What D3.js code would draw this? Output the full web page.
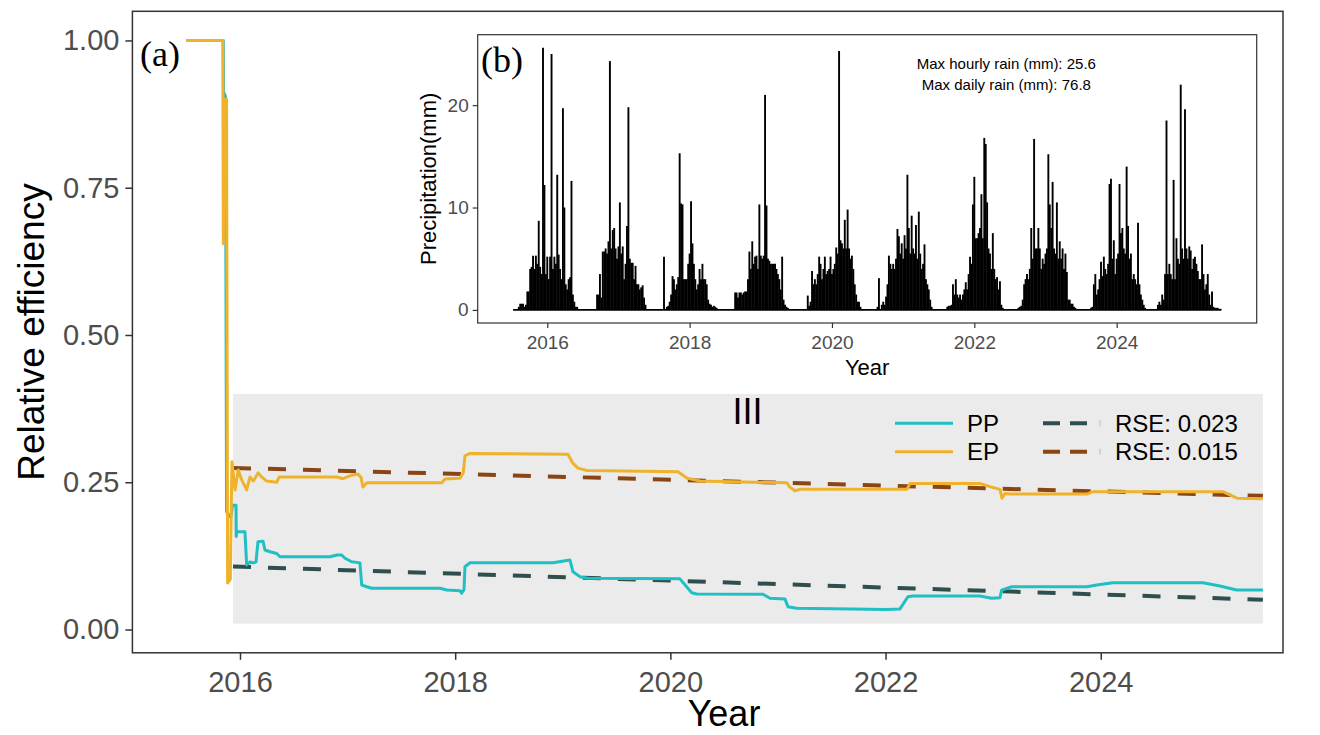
<!DOCTYPE html>
<html><head><meta charset="utf-8">
<script src="https://cdn.jsdelivr.net/npm/d3@7"></script>
<style>body{margin:0;background:#fff}svg{display:block}text{font-family:"Liberation Sans",Arial,sans-serif}</style>
</head><body><svg id="c" width="1320" height="735"></svg>
<script>
// ---------- data ----------
const yearTicks = [2016, 2018, 2020, 2022, 2024];
const effTicks = [0, 0.25, 0.5, 0.75, 1.0];
const rainTicks = [0, 10, 20];

// PP relative efficiency [year, value]
const ppSeries = [
 [2015.50,1.000],[2015.845,1.000],[2015.85,0.78],[2015.855,0.91],[2015.865,0.905],[2015.875,0.20],
 [2015.915,0.19],[2015.93,0.211],[2015.963,0.211],[2015.965,0.158],[2015.969,0.166],[2016.046,0.166],
 [2016.062,0.1095],[2016.093,0.115],[2016.121,0.113],[2016.149,0.115],[2016.167,0.149],[2016.214,0.150],
 [2016.232,0.135],[2016.279,0.132],[2016.341,0.129],[2016.372,0.1236],[2016.836,0.1236],[2016.901,0.1265],
 [2016.945,0.1265],[2016.976,0.121],[2017.038,0.115],[2017.085,0.114],[2017.115,0.113],[2017.131,0.0756],
 [2017.178,0.0727],[2017.224,0.070],[2017.859,0.070],[2017.921,0.067],[2018.045,0.066],[2018.06,0.0615],
 [2018.082,0.068],[2018.091,0.1066],[2018.138,0.1134],[2018.909,0.1134],[2019.067,0.118],[2019.095,0.098],
 [2019.16,0.0897],[2019.234,0.087],[2020.089,0.086],[2020.151,0.0727],[2020.198,0.0625],[2020.244,0.0603],
 [2020.861,0.060],[2020.926,0.053],[2021.065,0.052],[2021.093,0.0387],[2021.174,0.036],[2022.01,0.034],
 [2022.134,0.035],[2022.208,0.0557],[2022.255,0.057],[2022.877,0.057],[2022.986,0.053],[2023.063,0.054],
 [2023.079,0.067],[2023.172,0.0727],[2023.872,0.0727],[2023.962,0.0756],[2024.113,0.0795],[2024.95,0.0795],
 [2025.108,0.074],[2025.263,0.067],[2025.507,0.067]
];
// EP relative efficiency [year, value]
const epSeries = [
 [2015.50,1.000],[2015.84,1.000],[2015.845,0.655],[2015.86,0.900],[2015.875,0.900],[2015.885,0.079],
 [2015.91,0.085],[2015.925,0.285],[2015.954,0.237],[2015.984,0.271],[2016.016,0.254],[2016.062,0.237],
 [2016.093,0.259],[2016.124,0.252],[2016.170,0.266],[2016.201,0.259],[2016.248,0.252],[2016.341,0.250],
 [2016.365,0.259],[2016.90,0.259],[2016.957,0.256],[2017.04,0.262],[2017.097,0.264],[2017.125,0.258],
 [2017.143,0.242],[2017.178,0.249],[2017.875,0.249],[2017.905,0.2555],[2018.045,0.257],[2018.075,0.266],
 [2018.091,0.295],[2018.138,0.299],[2019.048,0.2975],[2019.095,0.282],[2019.141,0.274],[2019.225,0.270],
 [2020.071,0.268],[2020.117,0.262],[2020.154,0.257],[2020.275,0.252],[2021.084,0.249],[2021.112,0.2414],
 [2021.158,0.2357],[2021.204,0.238],[2022.199,0.238],[2022.227,0.248],[2022.877,0.248],[2022.998,0.241],
 [2023.063,0.238],[2023.082,0.223],[2023.11,0.231],[2023.156,0.230],[2023.872,0.230],[2023.927,0.234],
 [2025.136,0.234],[2025.266,0.223],[2025.507,0.222]
];
const ppTrend = [[2015.935,0.107],[2025.507,0.0506]];
const epTrend = [[2015.935,0.2744],[2025.507,0.227]];
const seriesNames = ["PP","EP"];
const rseLabels = ["RSE: 0.023","RSE: 0.015"];

// Precipitation (mm): wet-season bars every 0.02 yr, starting at rainStarts[i]
const rainStep = 0.02;
const rainStarts = [2015.60, 2016.70, 2017.62, 2018.64, 2019.66, 2020.64, 2021.62, 2022.62, 2023.64, 2024.58];
const rain1 = [0.3,0.6,0.6,0.6,0.3,0.5,1.8,1.8,4.0,4.2,5.3,4.0,5.3,4.5,8.7,4.2,3.5,25.6,12.2,3.5,5.2,3.0,5.2,25.0,4.0,5.2,4.5,13.2,5.4,4.0,3.0,19.7,10.0,2.5,2.0,3.0,3.2,12.6,1.5,0.8,0.3,0.3];
const rain2 = [1.5,1.5,3.5,1.2,5.7,5.7,6.0,5.5,6.7,24.3,6.0,7.8,8.0,6.0,5.0,6.2,10.5,5.5,6.2,3.0,4.5,8.2,19.8,5.0,4.6,4.6,3.0,4.3,2.5,2.5,2.0,2.2,2.4,1.2,0.5];
const rain3 = [0,5.2,0,0.3,0.4,0.8,1.5,3.3,3.0,2.0,2.5,3.2,15.3,10.4,10.3,3.0,3.0,3.0,4.5,5.5,10.6,6.5,4.5,3.0,2.0,2.5,4.0,3.0,4.5,3.0,3.0,2.5,1.0,0.6,0.5,0.3,0.4,0.3,0.2];
const rain4 = [1.7,1.7,1.2,1.7,1.7,1.5,1.7,1.8,1.8,3.0,5.7,4.0,6.7,4.5,5.2,5.3,4.0,10.3,5.3,5.0,5.3,21.0,10.2,5.0,4.8,4.5,4.5,4.5,4.5,4.0,3.5,3.0,2.0,5.2,1.0,0.5,0.3,0.2,0.1];
const rain5 = [1.4,0.4,0.8,3.8,2.5,3.0,2.5,3.5,5.2,4.5,3.0,4.0,5.2,3.5,3.8,4.0,5.2,3.5,4.0,4.5,6.1,5.5,25.3,6.8,6.5,6.0,8.8,6.0,9.8,6.0,5.0,5.3,4.0,2.5,1.5,0.8,0.8,0.3];
const rain6 = [0.3,3.1,0,0.5,0.8,0.5,1.3,2.5,5.3,4.5,4.0,4.5,4.0,5.0,7.9,7.2,5.5,6.5,5.0,7.3,6.0,13.2,8.0,5.5,9.2,6.0,5.5,8.3,5.0,9.6,5.5,4.0,4.5,6.4,3.0,2.5,2.0,1.0,0.3];
const rain7 = [0.3,0.4,0.4,0.5,2.5,1.5,3.0,1.5,1.2,1.5,1.0,1.5,2.0,2.7,2.0,3.5,5.2,4.5,10.3,13.0,7.0,7.0,7.5,8.0,11.3,7.0,16.8,16.2,10.5,6.0,5.5,4.0,7.5,4.0,3.0,3.2,2.0,2.8,0.5,0.2];
const rain8 = [0.2,0.3,0.4,1.0,2.5,3.0,3.5,3.0,4.0,8.0,5.0,16.7,6.0,6.0,8.0,6.0,4.0,5.0,4.5,5.5,6.0,15.2,10.3,8.0,12.5,6.0,5.5,10.5,5.0,6.7,5.0,6.0,4.0,5.5,3.7,1.0,1.0,0.6,0.6,0.3,0.2];
const rain9 = [0.2,0.3,2.5,3.5,1.5,2.0,3.0,4.7,3.3,5.2,4.0,3.5,4.5,12.3,12.8,5.0,6.8,3.5,5.0,5.5,12.3,7.5,8.0,6.0,5.5,14.0,8.2,5.0,5.5,3.0,3.5,3.0,2.5,8.5,2.5,1.5,1.0,0.5,0.2];
const rain10 = [0.5,0.8,0.5,1.5,1.0,3.5,18.5,3.5,4.5,3.5,3.0,12.7,3.0,7.0,5.0,4.5,22.0,6.0,5.0,19.6,6.0,5.0,6.2,5.8,4.0,5.0,5.2,4.5,3.8,3.0,3.0,6.4,3.5,2.0,2.5,3.5,1.5,0.5,1.8,0.3,0.2,0.2,0.2,0.1,0.1];
const rainSeasons = [rain1,rain2,rain3,rain4,rain5,rain6,rain7,rain8,rain9,rain10];
const rainRange = [2015.52, 2025.47];
const rainNotes = ["Max hourly rain (mm): 25.6", "Max daily rain (mm): 76.8"];

// ---------- drawing ----------
const svg = d3.select("#c");
const C = {pp:"#1FBFC3", ep:"#EFB32B", ppT:"#2F4F4F", epT:"#8B4513", axis:"#333333", tick:"#4D4D4D"};

// main panel
const x = d3.scaleLinear().domain([2015.0, 2025.694]).range([132.4, 1283]);
const y = d3.scaleLinear().domain([-0.0395, 1.0495]).range([652.8, 11.3]);

// highlighted period rectangle
svg.append("rect").attr("x", x(2015.935)).attr("y", y(0.40))
  .attr("width", x(2025.507)-x(2015.935)).attr("height", y(0.01)-y(0.40)).attr("fill","#EBEBEB");

const line = d3.line().x(d=>x(d[0])).y(d=>y(d[1]));
svg.append("path").datum(ppTrend).attr("d", line).attr("fill","none").attr("stroke",C.ppT)
  .attr("stroke-width",4).attr("stroke-dasharray","18,17");
svg.append("path").datum(epTrend).attr("d", line).attr("fill","none").attr("stroke",C.epT)
  .attr("stroke-width",4).attr("stroke-dasharray","18,17");
svg.append("path").datum(ppSeries).attr("d", line).attr("fill","none").attr("stroke",C.pp)
  .attr("stroke-width",3).attr("stroke-linejoin","round");
svg.append("path").datum(epSeries).attr("d", line).attr("fill","none").attr("stroke",C.ep)
  .attr("stroke-width",3).attr("stroke-linejoin","round");

// frame
svg.append("rect").attr("x", x.range()[0]).attr("y", y.range()[1])
  .attr("width", x.range()[1]-x.range()[0]).attr("height", y.range()[0]-y.range()[1])
  .attr("fill","none").attr("stroke",C.axis).attr("stroke-width",1.5);

// axes
const xAxis = svg.append("g").attr("transform",`translate(0,${y.range()[0]})`)
  .call(d3.axisBottom(x).tickValues(yearTicks).tickFormat(d3.format("d")).tickSize(7).tickPadding(6));
const yAxis = svg.append("g").attr("transform",`translate(${x.range()[0]},0)`)
  .call(d3.axisLeft(y).tickValues(effTicks).tickFormat(d3.format(".2f")).tickSize(7).tickPadding(6));
[xAxis,yAxis].forEach(g=>{
  g.select(".domain").remove();
  g.selectAll(".tick line").attr("stroke",C.axis).attr("stroke-width",1.5);
  g.selectAll(".tick text").attr("fill",C.tick).style("font-size","29px").style("font-family","'Liberation Sans',Arial,sans-serif");
});
xAxis.selectAll(".tick text").attr("dy","0.9em");

svg.append("text").attr("x", 724).attr("y", 726).attr("text-anchor","middle")
  .style("font-size","36px").attr("fill","#000").text("Year");
svg.append("text").attr("transform",`translate(44,${(y.range()[0]+y.range()[1])/2}) rotate(-90)`)
  .attr("text-anchor","middle").style("font-size","37px").attr("fill","#000").text("Relative efficiency");

svg.append("text").attr("x",140).attr("y",66).style("font-family","'Liberation Serif','Times New Roman',serif")
  .style("font-size","36px").attr("fill","#000").text("(a)");
svg.append("text").attr("x",747.5).attr("y",424).attr("text-anchor","middle")
  .style("font-size","36px").attr("fill","#000").text("III");

// legend
const lg = svg.append("g");
[0,1].forEach(i=>{
  const yy = 423.3 + i*28.4;
  lg.append("line").attr("x1",895).attr("x2",953).attr("y1",yy).attr("y2",yy)
    .attr("stroke", i===0?C.pp:C.ep).attr("stroke-width",3);
  lg.append("text").attr("x",967).attr("y",yy).attr("dy","0.36em").style("font-size","24px").attr("fill","#000").text(seriesNames[i]);
  lg.append("line").attr("x1",1043).attr("x2",1087).attr("y1",yy).attr("y2",yy)
    .attr("stroke", i===0?C.ppT:C.epT).attr("stroke-width",4).attr("stroke-dasharray","17,10");
  lg.append("line").attr("x1",1100).attr("x2",1100).attr("y1",yy-3).attr("y2",yy+3)
    .attr("stroke","#bbbbbb").attr("stroke-width",1);
  lg.append("text").attr("x",1115).attr("y",yy).attr("dy","0.36em").style("font-size","24px").attr("fill","#000").text(rseLabels[i]);
});

// ---------- inset ----------
const xi = d3.scaleLinear().domain([2015.0225, 2025.9675]).range([477.7, 1256.7]);
const yi = d3.scaleLinear().domain([-1.28, 26.88]).range([323, 34.7]);
svg.append("rect").attr("x",xi.range()[0]).attr("y",yi.range()[1])
  .attr("width",xi.range()[1]-xi.range()[0]).attr("height",yi.range()[0]-yi.range()[1])
  .attr("fill","#fff").attr("stroke",C.axis).attr("stroke-width",1.2);

const bars = [];
rainSeasons.forEach((vals,i)=>vals.forEach((v,j)=>{ if(v>0) bars.push([rainStarts[i]+j*rainStep, v]); }));
svg.append("g").selectAll("line").data(bars).join("line")
  .attr("x1",d=>xi(d[0])).attr("x2",d=>xi(d[0])).attr("y1",yi(0)).attr("y2",d=>yi(d[1]))
  .attr("stroke","#000").attr("stroke-width",1.9);
svg.append("line").attr("x1",xi(rainRange[0])).attr("x2",xi(rainRange[1])).attr("y1",yi(0)).attr("y2",yi(0))
  .attr("stroke","#000").attr("stroke-width",1.8);

const xiAxis = svg.append("g").attr("transform",`translate(0,${yi.range()[0]})`)
  .call(d3.axisBottom(xi).tickValues(yearTicks).tickFormat(d3.format("d")).tickSize(5).tickPadding(4));
const yiAxis = svg.append("g").attr("transform",`translate(${xi.range()[0]},0)`)
  .call(d3.axisLeft(yi).tickValues(rainTicks).tickSize(5).tickPadding(4));
[xiAxis,yiAxis].forEach(g=>{
  g.select(".domain").remove();
  g.selectAll(".tick line").attr("stroke",C.axis).attr("stroke-width",1.2);
  g.selectAll(".tick text").attr("fill",C.tick).style("font-size","19px").style("font-family","'Liberation Sans',Arial,sans-serif");
});
xiAxis.selectAll(".tick text").attr("dy","0.9em");

svg.append("text").attr("x",(xi.range()[0]+xi.range()[1])/2).attr("y",375).attr("text-anchor","middle")
  .style("font-size","22px").attr("fill","#000").text("Year");
svg.append("text").attr("transform",`translate(436,${(yi.range()[0]+yi.range()[1])/2}) rotate(-90)`)
  .attr("text-anchor","middle").style("font-size","22px").attr("fill","#000").text("Precipitation(mm)");
svg.append("text").attr("x",481).attr("y",72).style("font-family","'Liberation Serif','Times New Roman',serif")
  .style("font-size","36px").attr("fill","#000").text("(b)");
rainNotes.forEach((t,i)=>svg.append("text").attr("x",1006.3).attr("y",69.3+i*20.7).attr("text-anchor","middle")
  .style("font-size","15px").attr("fill","#000").text(t));
</script></body></html>
